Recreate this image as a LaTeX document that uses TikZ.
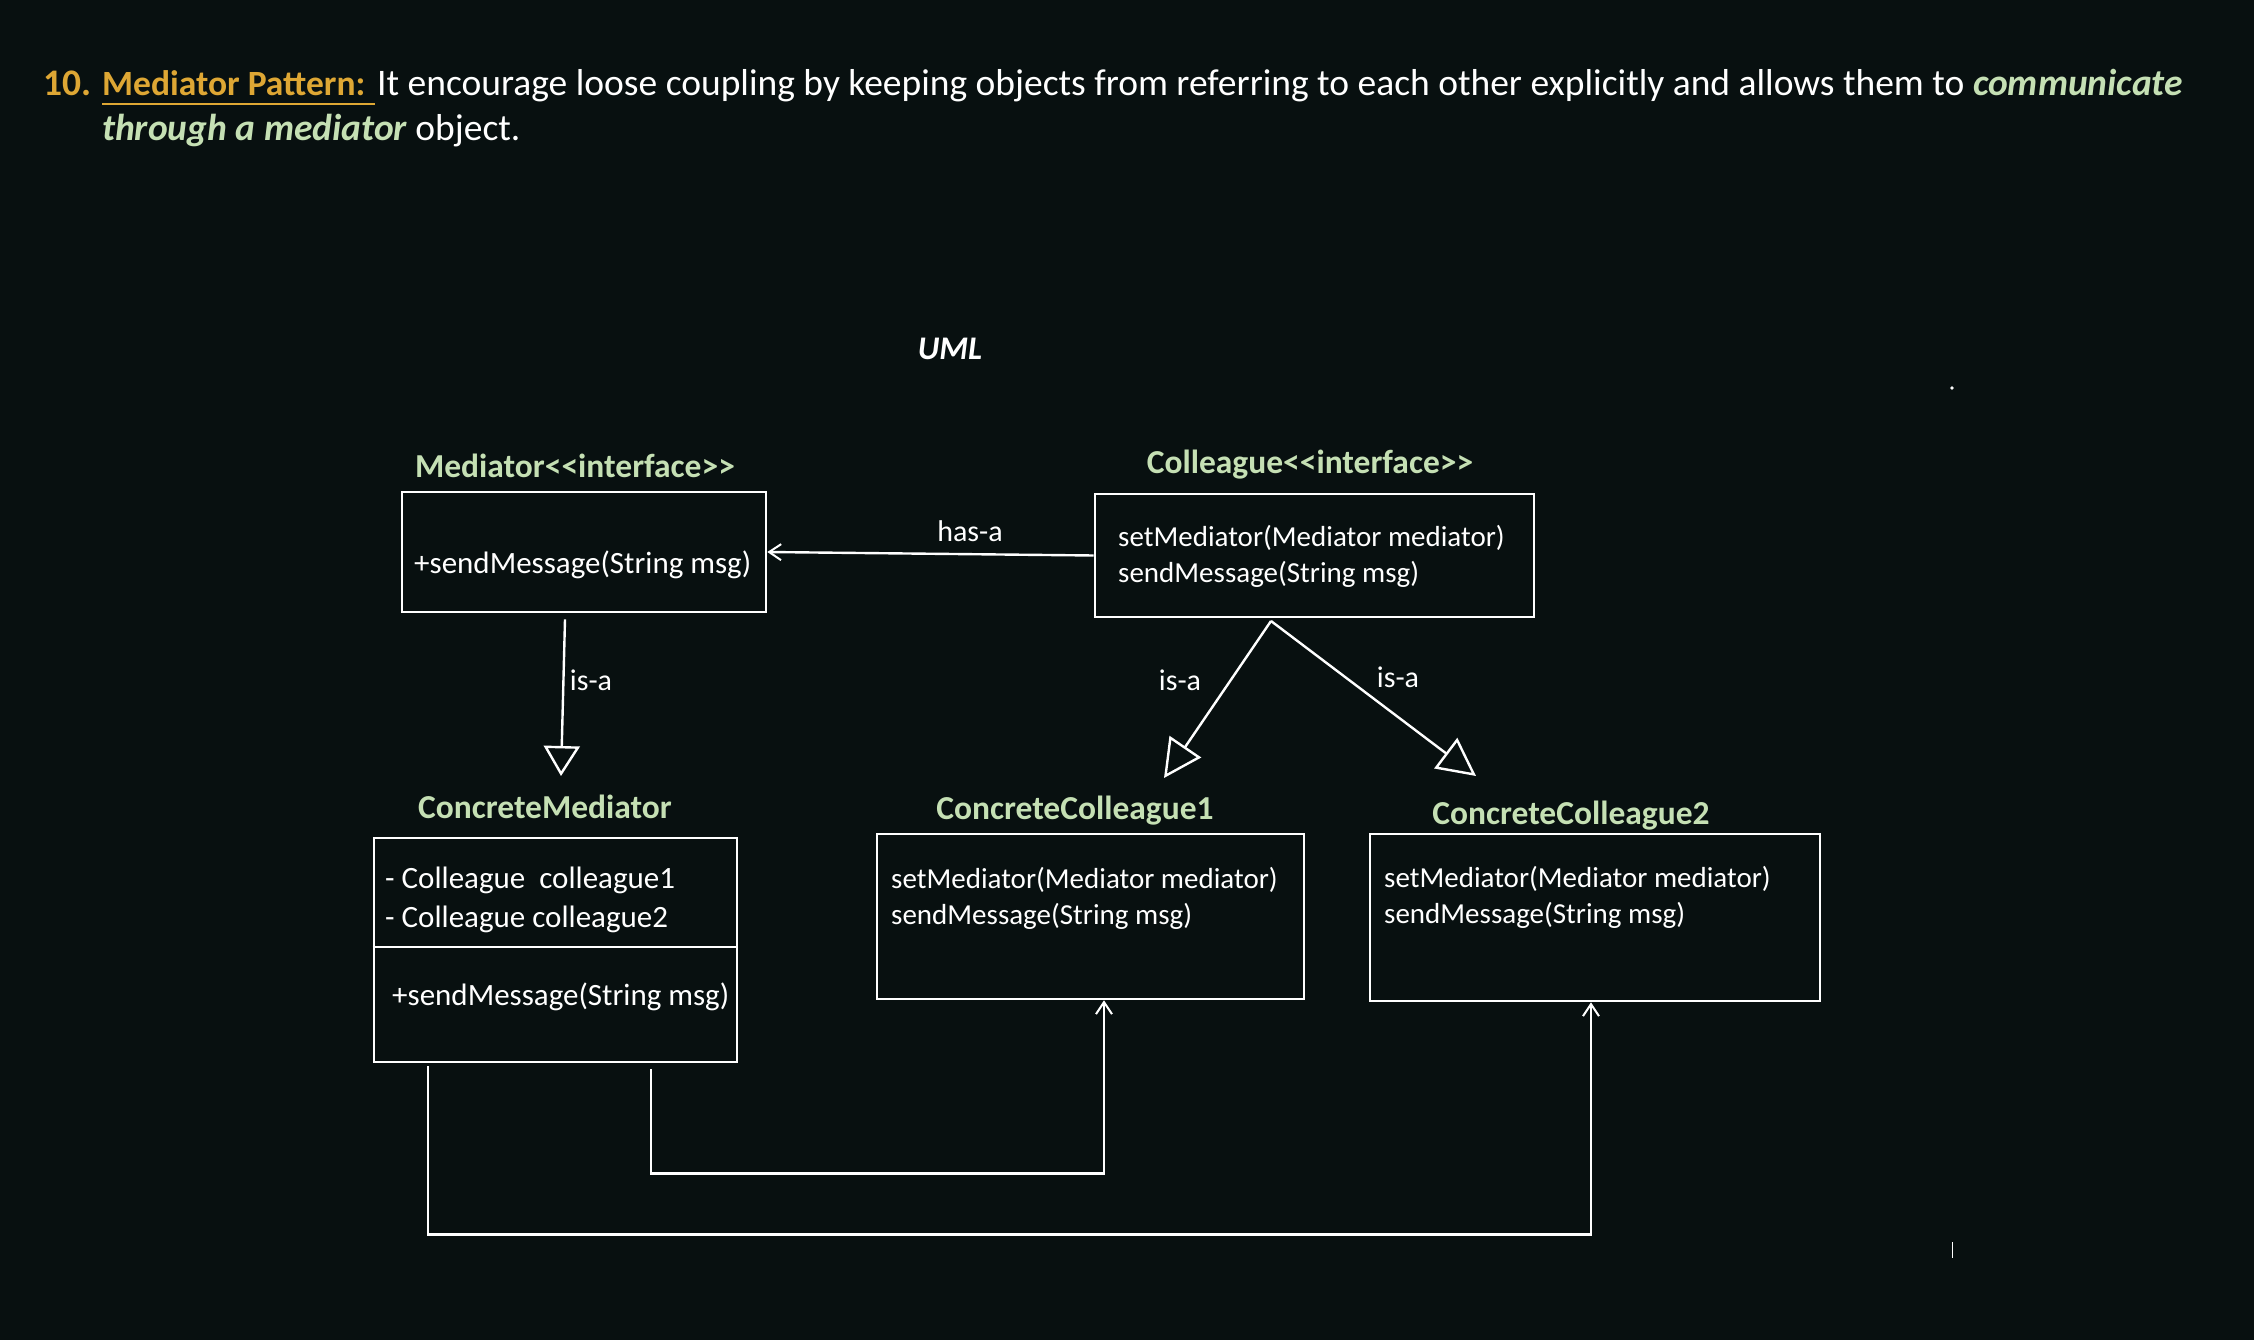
\documentclass[tikz,border=0pt]{standalone}
\usepackage{fontspec}
\setmainfont{Carlito}
\usetikzlibrary{arrows.meta,calc}
\definecolor{bg}{RGB}{8,16,16}
\definecolor{gold}{RGB}{222,167,52}
\definecolor{lgreen}{RGB}{197,224,180}
\begin{document}
\begin{tikzpicture}[x=1pt,y=-1pt,
  every node/.style={inner sep=0pt,text=white},
  body/.style={font=\fontsize{31}{36}\selectfont,anchor=base west},
  bodys/.style={font=\fontsize{29}{36}\selectfont,anchor=base west},
  ttl/.style={font=\fontsize{33.5}{40}\selectfont\bfseries,text=lgreen,anchor=base},
  lbl/.style={font=\fontsize{30}{36}\selectfont,anchor=center},
  box/.style={draw=white,line width=2.6pt,rectangle},
  conn/.style={draw=white,line width=2.4pt},
  barb/.style={-{Straight Barb[length=12pt,width=16pt,line width=2pt]}},
  gen/.style={-{Triangle[open,length=30pt,width=36pt,line width=2.4pt]}},
  genb/.style={-{Triangle[open,length=38pt,width=38pt,line width=2.4pt]}},
  big/.style={font=\fontsize{37.5}{44.6}\selectfont,anchor=base west}]
\fill[bg] (0,0) rectangle (2254,1340);
\useasboundingbox (0,0) rectangle (2254,1340);
% heading
\node[big,text=gold] (n10) at (43,96) {\bfseries 10.};
\node[big,text=gold,font=\fontsize{35.5}{44.6}\selectfont] (mp) at (102,96) {\bfseries Mediator Pattern:};
\draw[gold,line width=2.6pt] ($(mp.base west)+(0,8)$) -- ($(mp.base east)+(9,8)$);
\node[big] (l1) at (377,96) {It encourage loose coupling by keeping objects from referring to each other explicitly and allows them to \textcolor{lgreen}{\bfseries\itshape communicate}};
\node[big] (l2) at (102,141) {\textcolor{lgreen}{\bfseries\itshape through a mediator} object.};
\node[font=\fontsize{33}{40}\selectfont\bfseries\itshape,anchor=base] (uml) at (950,359) {UML};
% boxes
\node[box,minimum width=364pt,minimum height=120pt] (med) at (584,552) {};
\node[ttl] (medt) at (575,477) {Mediator<{}<interface>{}>};
\node[body] (medm) at (414,573) {+sendMessage(String msg)};

\node[box,minimum width=439pt,minimum height=123pt] (col) at (1314.5,555.5) {};
\node[ttl] (colt) at (1310,473) {Colleague<{}<interface>{}>};
\node[bodys] (colm1) at (1118,546) {setMediator(Mediator mediator)};
\node[bodys] (colm2) at (1118,582) {sendMessage(String msg)};

\node[box,minimum width=363pt,minimum height=224pt] (cm) at (555.5,950) {};
\draw[conn] (cm.west |- 0,947) -- (cm.east |- 0,947);
\node[ttl] (cmt) at (545,818) {ConcreteMediator};
\node[body] (cma1) at (385,888) {- Colleague\ \ colleague1};
\node[body] (cma2) at (385,927) {- Colleague colleague2};
\node[body] (cmm) at (392,1005) {+sendMessage(String msg)};

\node[box,minimum width=427pt,minimum height=165pt] (cc1) at (1090.5,916.5) {};
\node[ttl] (cc1t) at (1075,819) {ConcreteColleague1};
\node[bodys] (cc1m1) at (891,888) {setMediator(Mediator mediator)};
\node[bodys] (cc1m2) at (891,924) {sendMessage(String msg)};

\node[box,minimum width=450pt,minimum height=167pt] (cc2) at (1595,917.5) {};
\node[ttl] (cc2t) at (1571,824) {ConcreteColleague2};
\node[bodys] (cc2m1) at (1384,887) {setMediator(Mediator mediator)};
\node[bodys] (cc2m2) at (1384,923) {sendMessage(String msg)};

% connectors
\draw[conn,barb] (col.west) -- (med.east);
\node[lbl] (hasa) at (970,531) {has-a};

\coordinate (apex) at (1271,621);
\draw[conn,gen] ($(med.south)+(-19,6)$) -- (561,776);
\node[lbl] (isa1) at (591,680) {is-a};
\draw[conn,genb] (apex) -- (1164,778);
\node[lbl] (isa2) at (1180,680) {is-a};
\draw[conn,genb] (apex) -- (1476,776);
\node[lbl] (isa3) at (1398,677) {is-a};

\draw[conn,barb] ($(cm.south)+(95.5,6)$) -- ++(0,104) -| ([xshift=13.5pt]cc1.south);
\draw[conn,barb] ($(cm.south)+(-127.5,3)$) -- ++(0,168) -| ([xshift=-4pt]cc2.south);
% stray marks
\fill[white] (1952,388) circle (1.8pt);
\draw[white,line width=1pt] (1952,1242) -- (1952,1258);
\end{tikzpicture}
\end{document}
